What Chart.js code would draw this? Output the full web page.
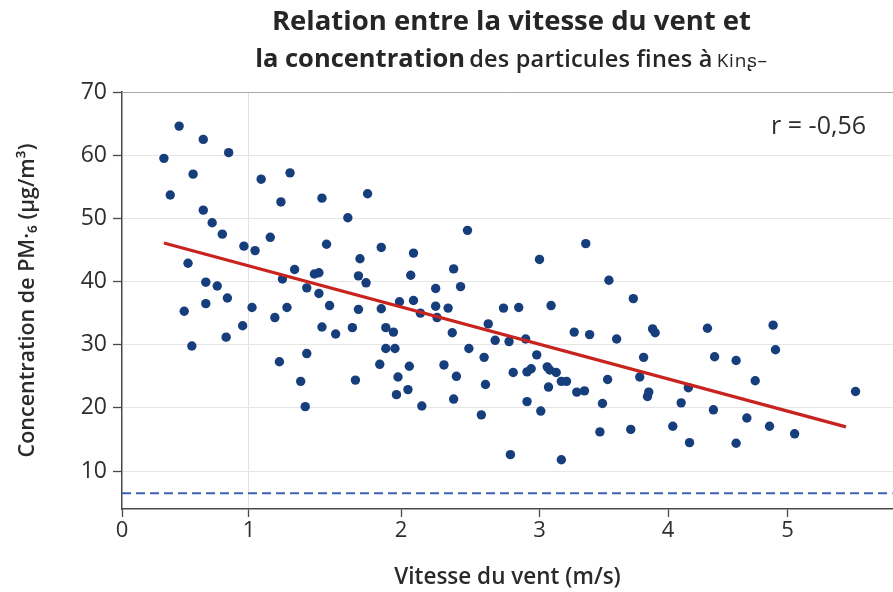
<!DOCTYPE html>
<html lang="fr">
<head>
<meta charset="utf-8">
<title>Vitesse du vent et PM</title>
<script src="https://cdn.jsdelivr.net/npm/chart.js@4.4.1/dist/chart.umd.min.js"></script>
<style>
    html, body { margin: 0; padding: 0; background: #fff; }
    #wrap { position: relative; width: 893px; height: 592px; overflow: hidden; }
    #chart { position: absolute; left: 0; top: 0; }
    #title {
        position: absolute; left: 130px; width: 763px; top: 1px;
        text-align: center; font-family: "Open Sans", sans-serif; color: #262626;
    }
    #title .l1 { font-size: 27.5px; font-weight: 700; line-height: 38px; }
    #title .l2 { line-height: 36px; white-space: nowrap; }
    #title .big { font-size: 25.5px; font-weight: 700; }
    #title .mid { font-size: 23.5px; font-weight: 600; letter-spacing: 0.2px; }
    #title .small { font-size: 19px; font-weight: 400; letter-spacing: 0.8px; }
</style>
</head>
<body>
<div id="wrap">
    <canvas id="chart" width="893" height="592"></canvas>
    <div id="title">
        <div class="l1">Relation entre la vitesse du vent et</div>
        <div class="l2"><span class="big">la concentration</span> <span class="mid">des particules fines à</span> <span class="small">Kinʂ–</span></div>
    </div>
</div>
<script>
// wind speed (m/s) and PM concentration (µg/m³), one entry per station-day
const windSpeed = [
    0.45, 0.64, 0.84, 0.33, 0.56, 0.38, 1.08, 1.27, 1.21, 1.48,
    1.78, 0.64, 0.71, 0.79, 1.65, 0.96, 1.04, 1.14, 1.51, 1.87,
    0.52, 1.73, 1.30, 1.46, 1.43, 1.22, 1.72, 1.77, 0.66, 0.75,
    1.38, 1.46, 0.83, 0.66, 0.49, 1.02, 1.25, 1.53, 1.99, 1.17,
    1.72, 1.87, 0.95, 1.48, 1.57, 1.68, 1.90, 1.95, 0.82, 0.55,
    1.38, 1.20, 1.90, 1.96, 1.86, 1.34, 1.70, 1.98, 1.97, 1.37,
    2.48, 3.36, 2.09, 3.00, 2.38, 2.07, 3.54, 2.25, 2.43, 3.73,
    2.09, 2.25, 2.34, 2.14, 2.26, 2.74, 2.85, 3.09, 2.63,
    2.37, 3.27, 3.39, 3.60, 2.68, 2.78, 2.90, 2.49, 2.60, 2.98,
    2.06, 2.31, 2.40, 2.81, 2.91, 2.94, 3.06, 3.08, 3.13, 3.17,
    3.21, 3.53, 3.78, 2.05, 2.61, 3.07, 3.29, 3.35, 2.15, 2.38,
    2.91, 3.49, 2.58, 3.01, 3.47, 3.71, 2.79, 3.17,
    3.88, 3.90, 4.33, 4.88, 4.90, 3.81, 4.39, 4.57, 4.73, 3.85,
    3.84, 4.17, 4.11, 4.38, 5.57, 4.66, 4.04, 4.85, 5.06, 4.18,
    4.57
];
const pmValues = [
    64.6, 62.5, 60.4, 59.5, 57.0, 53.7, 56.2, 57.2, 52.6, 53.2,
    53.9, 51.3, 49.3, 47.5, 50.1, 45.6, 44.9, 47.0, 45.9, 45.4,
    42.9, 43.6, 41.9, 41.4, 41.2, 40.4, 40.9, 39.8, 39.9, 39.3,
    39.0, 38.1, 37.4, 36.5, 35.3, 35.9, 35.9, 36.2, 36.8, 34.3,
    35.6, 35.7, 33.0, 32.8, 31.7, 32.7, 32.7, 32.0, 31.2, 29.8,
    28.6, 27.3, 29.4, 29.4, 26.9, 24.2, 24.4, 24.9, 22.1, 20.2,
    48.1, 46.0, 44.5, 43.5, 42.0, 41.0, 40.2, 38.9, 39.2, 37.3,
    37.0, 36.1, 35.8, 35.0, 34.3, 35.8, 35.9, 36.2, 33.3,
    31.9, 32.0, 31.6, 30.9, 30.7, 30.5, 30.9, 29.4, 28.0, 28.4,
    26.6, 26.8, 25.0, 25.6, 25.7, 26.2, 26.5, 26.0, 25.6, 24.2,
    24.2, 24.5, 24.9, 22.9, 23.7, 23.3, 22.5, 22.7, 20.3, 21.4,
    21.0, 20.7, 18.9, 19.5, 16.2, 16.6, 12.6, 11.8,
    32.5, 31.9, 32.6, 33.1, 29.2, 28.0, 28.1, 27.5, 24.3, 22.5,
    21.8, 23.2, 20.8, 19.7, 22.6, 18.4, 17.1, 17.1, 15.9, 14.5,
    14.4
];

// regression line end points [speed, concentration]
const trendStart = [0.33, 46.1];
const trendEnd = [5.49, 17.0];
const limitValue = 6.5;
const correlationLabel = 'r = -0,56';

const xTickValues = [0, 1, 2, 3, 4, 5];
const yTickValues = [10, 20, 30, 40, 50, 60, 70];
const xRange = [0, 5.88];
const yRange = [4, 70];

// the printed speed axis is not evenly spaced: fraction of axis width at each whole m/s
const xAxisStops = [0, 0.1647, 0.3619, 0.5415, 0.7082, 0.8631];

function warpValue(v) {
    const last = xAxisStops.length - 1;
    const i = Math.max(0, Math.min(Math.floor(v), last - 1));
    return xAxisStops[i] + (v - i) * (xAxisStops[i + 1] - xAxisStops[i]);
}

function unwarpDecimal(d) {
    const last = xAxisStops.length - 1;
    let i = 0;
    while (i < last - 1 && d > xAxisStops[i + 1]) i++;
    return i + (d - xAxisStops[i]) / (xAxisStops[i + 1] - xAxisStops[i]);
}

class WarpedLinearScale extends Chart.LinearScale {
    static id = 'warpedLinear';
    static defaults = Chart.LinearScale.defaults;

    getPixelForValue(value) {
        if (value === null || value === undefined) return NaN;
        return this.getPixelForDecimal(warpValue(value));
    }

    getValueForPixel(pixel) {
        return unwarpDecimal(this.getDecimalForPixel(pixel));
    }
}
Chart.register(WarpedLinearScale);

const FONT = '"Open Sans", "Noto Sans", sans-serif';
const TEXT = '#2e2e2e';
const AXIS = '#4a4a4a';

const correlationText = {
    id: 'correlationText',
    afterDatasetsDraw(chart) {
        const { ctx, chartArea } = chart;
        ctx.save();
        ctx.font = `400 25px ${FONT}`;
        ctx.fillStyle = TEXT;
        ctx.textAlign = 'right';
        ctx.textBaseline = 'middle';
        ctx.fillText(correlationLabel, chart.width - 27, chartArea.top + 35);
        ctx.restore();
    }
};

const points = windSpeed.map((x, i) => ({ x, y: pmValues[i] }));

new Chart(document.getElementById('chart'), {
    type: 'scatter',
    data: {
        datasets: [
            {
                label: 'Tendance',
                data: [{ x: trendStart[0], y: trendStart[1] }, { x: trendEnd[0], y: trendEnd[1] }],
                showLine: true,
                borderColor: '#c8231f',
                borderWidth: 3.2,
                pointRadius: 0,
                order: 0
            },
            {
                label: 'Mesures',
                data: points,
                backgroundColor: '#173e7c',
                borderWidth: 0,
                pointRadius: 4.7,
                order: 1
            },
            {
                label: 'Seuil',
                data: [{ x: xRange[0], y: limitValue }, { x: xRange[1], y: limitValue }],
                showLine: true,
                borderColor: '#3d62b4',
                borderWidth: 2,
                borderDash: [9, 5],
                pointRadius: 0,
                order: 2
            }
        ]
    },
    options: {
        responsive: false,
        animation: false,
        devicePixelRatio: 1,
        layout: { autoPadding: false, padding: { top: 92, right: 0, bottom: 0, left: 0 } },
        plugins: {
            legend: { display: false },
            tooltip: { enabled: false }
        },
        scales: {
            x: {
                type: 'warpedLinear',
                position: 'bottom',
                min: xRange[0],
                max: xRange[1],
                afterBuildTicks: (scale) => { scale.ticks = xTickValues.map(v => ({ value: v })); },
                afterFit: (scale) => {
                    scale.height = 83;
                    scale.paddingLeft = 0;
                    scale.paddingRight = 0;
                },
                border: { color: AXIS, width: 1.5 },
                grid: {
                    color: (ctx) => (ctx.tick && ctx.tick.value === 1 ? '#e2e2e2' : 'rgba(0,0,0,0)'),
                    tickColor: AXIS,
                    tickLength: 8,
                    tickWidth: 1.3
                },
                ticks: {
                    color: TEXT,
                    padding: 1,
                    maxRotation: 0,
                    font: { family: FONT, size: 22 }
                },
                title: {
                    display: true,
                    text: 'Vitesse du vent (m/s)',
                    color: '#2a2a2a',
                    font: { family: FONT, size: 22.5, weight: 600 },
                    padding: { top: 0, bottom: 1 }
                }
            },
            y: {
                min: yRange[0],
                max: yRange[1],
                afterBuildTicks: (scale) => { scale.ticks = yTickValues.map(v => ({ value: v })); },
                afterFit: (scale) => { scale.width = 122; },
                border: { color: AXIS, width: 1.5 },
                grid: {
                    color: (ctx) => (ctx.tick && ctx.tick.value === 70 ? '#a8a8a8' : '#e6e6e6'),
                    tickColor: AXIS,
                    tickLength: 9,
                    tickWidth: 1.3
                },
                ticks: {
                    color: TEXT,
                    padding: 6,
                    font: { family: FONT, size: 23 }
                },
                title: {
                    display: true,
                    text: 'Concentration de PM·₆ (µg/m³)',
                    color: '#2a2a2a',
                    font: { family: FONT, size: 21.5, weight: 600 },
                    padding: { top: 15, bottom: 0 }
                }
            }
        }
    },
    plugins: [correlationText]
});
</script>
</body>
</html>
